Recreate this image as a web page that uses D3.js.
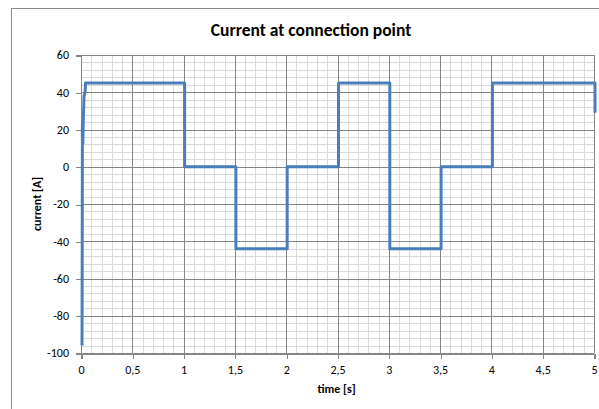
<!DOCTYPE html>
<html>
<head>
<meta charset="utf-8">
<script src="https://cdn.jsdelivr.net/npm/d3@7"></script>
<style>
  html, body { margin: 0; padding: 0; background: #fff; }
  svg { display: block; }
  text { font-family: Carlito, Calibri, Lato, "Open Sans", sans-serif; fill: #000; }
</style>
</head>
<body>
<svg id="chart" width="599" height="409"></svg>
<script>
// Current waveform at the connection point: sample times (s) and current (A)
const timeS = [
  0, 0.002, 0.004, 0.008, 0.012, 0.02, 0.03, 0.035,
  1.0, 1.0, 1.5, 1.5, 2.0, 2.0, 2.5, 2.5,
  3.0, 3.0, 3.5, 3.5, 4.0, 4.0, 5.0, 5.0
];
const currentA = [
  -96, -50, 23, 12, 24, 38, 40, 45,
  45, 0, 0, -44, -44, 0, 0, 45,
  45, -44, -44, 0, 0, 45, 45, 29
];

const xTicks = [0, 0.5, 1, 1.5, 2, 2.5, 3, 3.5, 4, 4.5, 5];
const yTicks = [-100, -80, -60, -40, -20, 0, 20, 40, 60];
const xMinorStep = 0.1;
const yMinorStep = 4;

const titleText = "Current at connection point";
const xTitle = "time [s]";
const yTitle = "current [A]";

const svg = d3.select("#chart");

const plot = { left: 81, right: 594, top: 55, bottom: 353 };

const x = d3.scaleLinear().domain([0, 5]).range([plot.left, plot.right]);
const y = d3.scaleLinear().domain([-100, 60]).range([plot.bottom, plot.top]);

// Outer chart frame
svg.append("rect")
  .attr("x", 11.5).attr("y", 8.5)
  .attr("width", 620).attr("height", 420)
  .attr("fill", "none").attr("stroke", "#8a8a8a").attr("stroke-width", 1);

// Minor gridlines
const xMinor = d3.range(0, 5 + 1e-9, xMinorStep);
const yMinor = d3.range(-100, 60 + 1e-9, yMinorStep);
const grid = svg.append("g").attr("shape-rendering", "crispEdges");
grid.selectAll(".vmin").data(xMinor).join("line")
  .attr("x1", d => Math.round(x(d)) + 0.5).attr("x2", d => Math.round(x(d)) + 0.5)
  .attr("y1", plot.top).attr("y2", plot.bottom)
  .attr("stroke", "#d9d9d9").attr("stroke-width", 1);
grid.selectAll(".hmin").data(yMinor).join("line")
  .attr("y1", d => Math.round(y(d)) + 0.5).attr("y2", d => Math.round(y(d)) + 0.5)
  .attr("x1", plot.left).attr("x2", plot.right)
  .attr("stroke", "#d9d9d9").attr("stroke-width", 1);

// Major gridlines
grid.selectAll(".vmaj").data(xTicks).join("line")
  .attr("x1", d => Math.round(x(d)) + 0.5).attr("x2", d => Math.round(x(d)) + 0.5)
  .attr("y1", plot.top).attr("y2", plot.bottom)
  .attr("stroke", "#868686").attr("stroke-width", 1);
grid.selectAll(".hmaj").data(yTicks).join("line")
  .attr("y1", d => Math.round(y(d)) + 0.5).attr("y2", d => Math.round(y(d)) + 0.5)
  .attr("x1", plot.left).attr("x2", plot.right)
  .attr("stroke", "#868686").attr("stroke-width", 1);

// Axes
const fmtX = d => String(d).replace(".", ",");
const xAxis = d3.axisBottom(x).tickValues(xTicks).tickFormat(fmtX).tickSize(5).tickPadding(7);
const yAxis = d3.axisLeft(y).tickValues(yTicks).tickFormat(d => d).tickSize(5).tickPadding(7);

const gx = svg.append("g")
  .attr("transform", `translate(0,${Math.round(y(-100)) + 0.5})`)
  .call(xAxis);
const gy = svg.append("g")
  .attr("transform", `translate(${Math.round(x(0))},0)`)
  .call(yAxis);

[gx, gy].forEach(g => {
  g.attr("shape-rendering", "crispEdges");
  g.select(".domain").attr("stroke", "#868686");
  g.selectAll(".tick line").attr("stroke", "#868686");
  g.selectAll(".tick text").attr("font-size", 12).attr("fill", "#222");
});
gx.selectAll(".tick line").attr("transform", "translate(0.5,0)");
gy.selectAll(".tick line").attr("transform", "translate(0,0.5)");

// Waveform
const pts = timeS.map((t, i) => [t, currentA[i]]);
svg.append("path")
  .datum(pts)
  .attr("fill", "none")
  .attr("stroke", "#4a7ebb")
  .attr("stroke-width", 3)
  .attr("stroke-linejoin", "round")
  .attr("d", d3.line().x(d => x(d[0]) + 1).y(d => y(d[1])));

// Titles
svg.append("text")
  .attr("x", 311).attr("y", 36)
  .attr("text-anchor", "middle")
  .attr("font-size", 17.5).attr("font-weight", "bold")
  .text(titleText);

svg.append("text")
  .attr("x", (plot.left + plot.right) / 2 - 1).attr("y", 393)
  .attr("text-anchor", "middle")
  .attr("font-size", 12).attr("font-weight", "bold")
  .text(xTitle);

svg.append("text")
  .attr("transform", `translate(41,${(plot.top + plot.bottom) / 2}) rotate(-90)`)
  .attr("text-anchor", "middle")
  .attr("font-size", 12).attr("font-weight", "bold")
  .text(yTitle);
</script>
</body>
</html>
